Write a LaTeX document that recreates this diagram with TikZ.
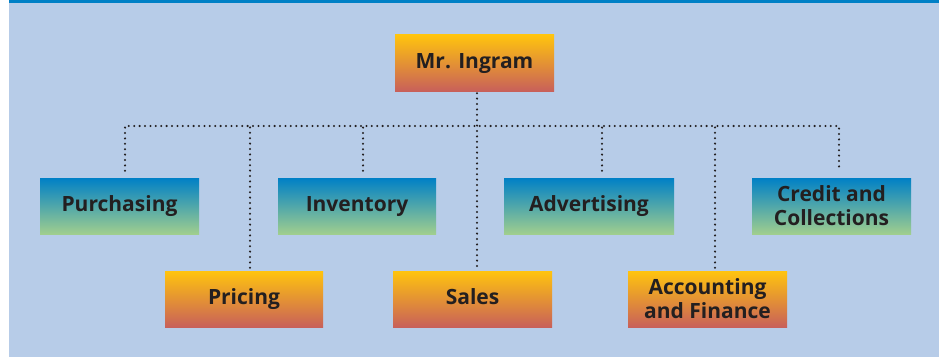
\documentclass[tikz,border=0pt]{standalone}
\usepackage{fontspec}
\newfontfamily\orgfont{Open Sans}
\usepackage{xcolor}
\definecolor{panel}{RGB}{183, 204, 232}
\definecolor{rule}{RGB}{0, 128, 198}
\definecolor{deptblue}{RGB}{0, 128, 198}
\definecolor{deptgreen}{RGB}{160, 206, 142}
\definecolor{leadyellow}{RGB}{255, 196, 14}
\definecolor{leadred}{RGB}{200, 96, 90}
\definecolor{ink}{RGB}{35, 31, 32}
\usepackage{tikz}
\usetikzlibrary{
    positioning,
    calc
}

\begin{document}
\begin{tikzpicture}[
    x=1pt, y=1pt,
    every text node part/.style={align=center},
    box/.style={inner sep=0pt, minimum width=159pt, minimum height=56pt, text=ink,
        text height=15pt, text depth=4pt,
        font=\orgfont\bfseries\fontsize{21}{24}\selectfont},
    twoline/.style={text height={}, text depth={}},
    headbox/.style={box, top color=leadyellow, bottom color=leadred},
    deptbox/.style={box, top color=deptblue, bottom color=deptgreen},
    staffbox/.style={box, top color=leadyellow, bottom color=leadred},
    orgline/.style={draw=ink, line width=2.3pt, line cap=round, dash pattern=on 0pt off 5.4pt}
]
\useasboundingbox (0,0) rectangle (939,357);

% ==================== PANEL ====================
\fill[panel] (9,0) rectangle (939,357);
\fill[rule] (9,354) rectangle (939,357);

% ==================== HEAD ====================
\node[headbox] (ingram) at (474.5,294) {Mr. Ingram};
\coordinate (bus) at (477,231);

% ==================== UPPER ROW ====================
\node[deptbox] (purch) at (119.5,151) {Purchasing};
\node[deptbox, minimum width=158pt] (inv) at (357,151) {Inventory};
\node[deptbox, minimum width=170pt] (adv) at (589,151) {Advertising};
\node[deptbox, twoline] (credit) at (831.5,151) {Credit and\\Collections};

% ==================== LOWER ROW ====================
\node[staffbox, minimum width=158pt] (pricing) at (244,58) {Pricing};
\node[staffbox] (sales) at (472.5,58) {Sales};
\node[staffbox, twoline] (acct) at (707.5,58) {Accounting\\and Finance};

% ==================== CONNECTORS ====================
\draw[orgline] ([xshift=2.5pt, yshift=-2pt]ingram.south) -- ([xshift=4.5pt, yshift=3pt]sales.north);
\draw[orgline] ([xshift=5.5pt, yshift=7pt]purch.north) |- (bus) -| ([xshift=7.5pt, yshift=7pt]credit.north);
\foreach \n/\dx/\gap in {pricing/6/3, inv/6/7, adv/13/7, acct/7.5/3}
    \draw[orgline] ([xshift=\dx pt, yshift=\gap pt]\n.north) -- ($(\n.north |- bus)+(\dx,0)$);

\end{tikzpicture}
\end{document}
